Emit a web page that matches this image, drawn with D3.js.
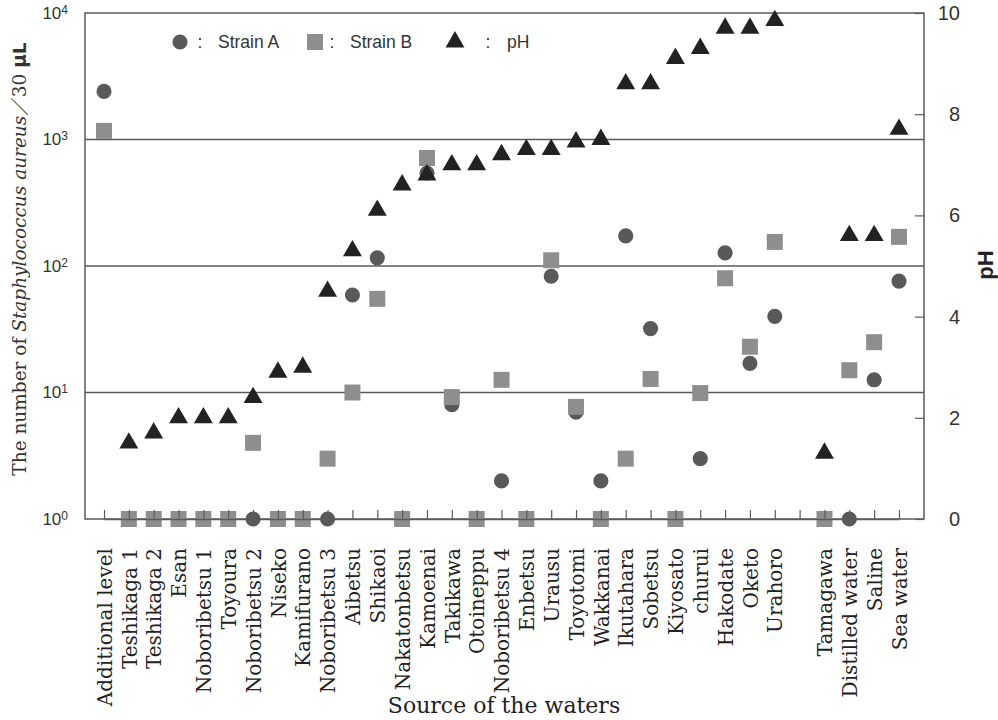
<!DOCTYPE html>
<html>
<head>
<meta charset="utf-8">
<script src="https://cdn.jsdelivr.net/npm/d3@7"></script>
<style>
  body { margin: 0; background: #fff; }
  svg { display: block; }
</style>
</head>
<body>
<svg id="chart" width="998" height="720"></svg>
<script>
// sampling sites, "" is the empty slot between Urahoro and Tamagawa
const sites = ["Additional level", "Teshikaga 1", "Teshikaga 2", "Esan", "Noboribetsu 1", "Toyoura",
  "Noboribetsu 2", "Niseko", "Kamifurano", "Noboribetsu 3", "Aibetsu", "Shikaoi", "Nakatonbetsu",
  "Kamoenai", "Takikawa", "Otoineppu", "Noboribetsu 4", "Enbetsu", "Urausu", "Toyotomi", "Wakkanai",
  "Ikutahara", "Sobetsu", "Kiyosato", "churui", "Hakodate", "Oketo", "Urahoro", "",
  "Tamagawa", "Distilled water", "Saline", "Sea water"];

// number of S. aureus / 30 uL
const strainA = [2400, 1, 1, 1, 1, 1, 1, 1, 1, 1, 59, 116, 1, 543, 8, 1, 2, 1, 83, 7, 2,
  173, 32, 1, 3, 127, 17, 40, null, 1, 1, 12.6, 76];
const strainB = [1170, 1, 1, 1, 1, 1, 4, 1, 1, 3, 10, 55, 1, 714, 9.2, 1, 12.6, 1, 111, 7.7, 1,
  3, 12.8, 1, 9.9, 80, 23, 155, null, 1, 15, 25, 170];
// pH of each water
const pH = [null, 1.5, 1.7, 2.0, 2.0, 2.0, 2.4, 2.9, 3.0, 4.5, 5.3, 6.1, 6.6, 6.8, 7.0, 7.0, 7.2, 7.3, 7.3,
  7.45, 7.5, 8.6, 8.6, 9.1, 9.3, 9.7, 9.7, 9.85, null, 1.3, 5.6, 5.6, 7.7];

const logTicks = [1, 10, 100, 1000, 10000];
const phTicks = [0, 2, 4, 6, 8, 10];

const svg = d3.select("#chart");
const margin = {top: 13, right: 74, bottom: 201, left: 85};
const W = +svg.attr("width") - margin.left - margin.right;
const H = +svg.attr("height") - margin.top - margin.bottom;

const colA = "#58595b", colB = "#8e8e8e", colPH = "#222";
const lineCol = "#5a5a5a";

const x = d3.scalePoint().domain(sites).range([19, W - 25]);
const y = d3.scaleLog().domain([1, 10000]).range([H, 0]);
const yPH = d3.scaleLinear().domain([0, 10]).range([H, 0]);

const g = svg.append("g").attr("transform", `translate(${margin.left},${margin.top})`);

// gridlines at each decade
g.selectAll("line.grid")
  .data(logTicks.slice(1, -1))
  .join("line")
  .attr("class", "grid")
  .attr("x1", 0).attr("x2", W)
  .attr("y1", d => y(d)).attr("y2", d => y(d))
  .style("stroke", lineCol).style("stroke-width", 1.3);

// frame
g.append("rect")
  .attr("width", W).attr("height", H)
  .style("fill", "none").style("stroke", lineCol).style("stroke-width", 1.5);

const rows = sites.map((s, i) => ({site: s, a: strainA[i], b: strainB[i], ph: pH[i]}));

// strain A circles
g.selectAll("path.strainA")
  .data(rows.filter(d => d.a != null))
  .join("path")
  .attr("class", "strainA")
  .attr("d", d3.symbol(d3.symbolCircle, 180))
  .attr("transform", d => `translate(${x(d.site)},${y(d.a)})`)
  .style("fill", colA);

// strain B squares
g.selectAll("path.strainB")
  .data(rows.filter(d => d.b != null))
  .join("path")
  .attr("class", "strainB")
  .attr("d", d3.symbol(d3.symbolSquare, 256))
  .attr("transform", d => `translate(${x(d.site)},${y(d.b)})`)
  .style("fill", colB);

// pH triangles
g.selectAll("path.ph")
  .data(rows.filter(d => d.ph != null))
  .join("path")
  .attr("class", "ph")
  .attr("d", d3.symbol(d3.symbolTriangle, 155))
  .attr("transform", d => `translate(${x(d.site)},${yPH(d.ph)})`)
  .style("fill", colPH);

// bottom axis: short ticks pointing up, rotated site names
const xAxis = g.append("g")
  .attr("transform", `translate(0,${H})`)
  .call(d3.axisBottom(x).tickSize(-9).tickSizeOuter(0));
xAxis.select(".domain").style("stroke", lineCol).style("stroke-width", 1.5);
xAxis.selectAll(".tick line").style("stroke", lineCol).style("stroke-width", 1.2);
xAxis.selectAll(".tick text")
  .attr("transform", "rotate(-90)")
  .attr("x", -29).attr("y", 0).attr("dy", "0.36em")
  .attr("text-anchor", "end")
  .style("font-family", "'DejaVu Serif', serif")
  .style("font-size", "20px")
  .style("fill", "#222");

// left log axis labels 10^n
const yAxis = g.append("g")
  .call(d3.axisLeft(y).tickValues(logTicks).tickSize(0).tickPadding(17).tickFormat(""));
yAxis.select(".domain").remove();
yAxis.selectAll(".tick text")
  .attr("dy", "0.32em")
  .style("font-family", "'Liberation Sans', Arial, sans-serif")
  .style("font-size", "17px")
  .style("fill", "#333")
  .each(function (d) {
    const t = d3.select(this);
    t.append("tspan").text("10");
    t.append("tspan").attr("dy", "-0.45em").style("font-size", "12px").text(Math.round(Math.log10(d)));
  });

// right pH axis
const yAxisR = g.append("g")
  .attr("transform", `translate(${W},0)`)
  .call(d3.axisRight(yPH).tickValues(phTicks).tickSize(-9).tickPadding(36));
yAxisR.select(".domain").remove();
yAxisR.selectAll(".tick line").style("stroke", lineCol).style("stroke-width", 1.2);
yAxisR.selectAll(".tick text")
  .attr("text-anchor", "end")
  .style("font-family", "'Liberation Sans', Arial, sans-serif")
  .style("font-size", "20px")
  .style("fill", "#333");

// axis titles
svg.append("text")
  .attr("x", margin.left + 419).attr("y", 713)
  .attr("text-anchor", "middle")
  .style("font-family", "'DejaVu Serif', serif")
  .style("font-size", "22px")
  .style("fill", "#222")
  .text("Source of the waters");

const yTitle = svg.append("text")
  .attr("transform", `translate(26,${margin.top + 246}) rotate(-90)`)
  .attr("text-anchor", "middle")
  .style("font-family", "'DejaVu Serif', serif")
  .style("font-size", "18.5px")
  .style("fill", "#333");
yTitle.append("tspan").text("The number of ");
yTitle.append("tspan").style("font-style", "italic").text("Staphylococcus aureus");
yTitle.append("tspan").style("font-family", "'Noto Sans CJK JP', sans-serif").text("／");
yTitle.append("tspan").text("30 ");
yTitle.append("tspan").style("font-family", "'DejaVu Sans', sans-serif").style("font-weight", "bold").text("μL");

svg.append("text")
  .attr("transform", `translate(${margin.left + W + 69},${margin.top + 252}) rotate(-90)`)
  .attr("text-anchor", "middle")
  .style("font-family", "'Liberation Sans', Arial, sans-serif")
  .style("font-size", "22px")
  .style("font-weight", "bold")
  .style("fill", "#222")
  .text("pH");

// legend
const legendItems = [
  {label: "Strain A", symbol: d3.symbolCircle, size: 180, color: colA, x: 180, colon: 200, text: 218},
  {label: "Strain B", symbol: d3.symbolSquare, size: 256, color: colB, x: 315, colon: 332, text: 350},
  {label: "pH", symbol: d3.symbolTriangle, size: 155, color: colPH, x: 455, colon: 488, text: 507}
];
const legend = svg.append("g").attr("transform", "translate(0,42)");
legendItems.forEach(d => {
  legend.append("path")
    .attr("d", d3.symbol(d.symbol, d.size))
    .attr("transform", `translate(${d.x},0)`)
    .style("fill", d.color);
  legend.append("text")
    .attr("x", d.colon).attr("y", 0).attr("dy", "0.35em")
    .attr("text-anchor", "middle")
    .style("font-family", "'Liberation Sans', Arial, sans-serif")
    .style("font-size", "17.5px").style("fill", "#333")
    .text(":");
  legend.append("text")
    .attr("x", d.text).attr("y", 0).attr("dy", "0.35em")
    .style("font-family", "'Liberation Sans', Arial, sans-serif")
    .style("font-size", "17.5px").style("fill", "#333")
    .text(d.label);
});
</script>
</body>
</html>
